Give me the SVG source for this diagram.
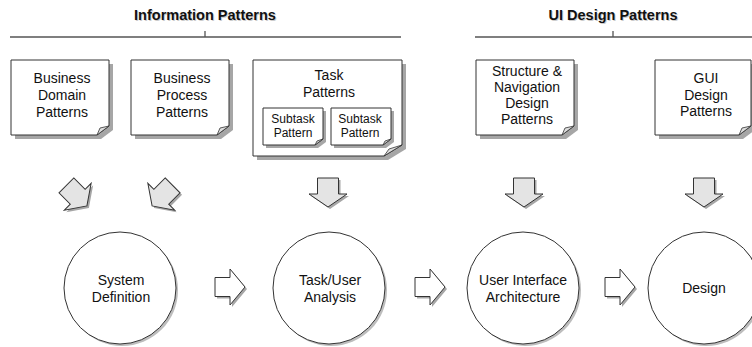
<svg xmlns="http://www.w3.org/2000/svg" xmlns:xlink="http://www.w3.org/1999/xlink" width="752" height="347" viewBox="0 0 752 347">
<style>
  .txt{font-family:"Liberation Sans",Arial,sans-serif;font-size:14px;fill:#111;text-anchor:middle}
  .sm{font-size:12px}
  .hdr{font-family:"Liberation Sans",Arial,sans-serif;font-size:14.5px;font-weight:bold;fill:#111;text-anchor:middle}
  .hdrsh{font-family:"Liberation Sans",Arial,sans-serif;font-size:14.5px;font-weight:bold;fill:#ccc;text-anchor:middle}
  .doc{fill:#fff;stroke:#333;stroke-width:1}
  .flap{fill:#ddd;stroke:#333;stroke-width:0.8}
  .sh{fill:#a6a6a6;stroke:none}
  .csh{fill:#bdbdbd;stroke:none}
  .circ{fill:#fff;stroke:#333;stroke-width:1}
  .garr{fill:#e4e4e4;stroke:#333;stroke-width:1}
  .warr{fill:#fff;stroke:#333;stroke-width:1}
  .line{stroke:#555;stroke-width:1.3;fill:none}
</style>
<defs>
  <polygon id="dn" points="-10.5,-15 10.5,-15 10.5,1 19,1 0,14 -19,1 -10.5,1"/>
  <polygon id="rt" points="0,-9.5 15,-9.5 15,-18 30,0 15,18 15,9.5 0,9.5"/>
</defs>

<g id="headers">
  <text class="hdrsh" x="206" y="21">Information Patterns</text>
  <text class="hdr" x="205" y="20">Information Patterns</text>
  <path class="line" d="M10,37 H401 M205,31 V37"/>
  <text class="hdrsh" x="614" y="21">UI Design Patterns</text>
  <text class="hdr" x="613" y="20">UI Design Patterns</text>
  <path class="line" d="M475,37 H752 M613,31 V37"/>
</g>

<g id="business-domain">
  <path class="sh" transform="translate(4,4)" d="M11,60 H109 V126 L97,135 H11 Z"/>
  <path class="doc" d="M11,60 H109 V126 L97,135 H11 Z"/>
  <path class="flap" d="M97,135 L100,128 L109,126 Z"/>
  <text class="txt" x="62" y="83">Business</text>
  <text class="txt" x="62" y="100">Domain</text>
  <text class="txt" x="62" y="117">Patterns</text>
</g>

<g id="business-process">
  <path class="sh" transform="translate(4,4)" d="M131,60 H229 V126 L217,135 H131 Z"/>
  <path class="doc" d="M131,60 H229 V126 L217,135 H131 Z"/>
  <path class="flap" d="M217,135 L220,128 L229,126 Z"/>
  <text class="txt" x="182" y="83">Business</text>
  <text class="txt" x="182" y="100">Process</text>
  <text class="txt" x="182" y="117">Patterns</text>
</g>

<g id="task-patterns">
  <path class="sh" transform="translate(4,4)" d="M253,60 H402 V145 L384,156 H253 Z"/>
  <path class="doc" d="M253,60 H402 V145 L384,156 H253 Z"/>
  <path class="flap" d="M384,156 L389,149 L402,145 Z"/>
  <text class="txt" x="329" y="80">Task</text>
  <text class="txt" x="329" y="97">Patterns</text>
  <g id="subtask-1">
    <path class="sh" transform="translate(3,3)" d="M263,108 H323 V139 L315,145 H263 Z"/>
    <path class="doc" d="M263,108 H323 V139 L315,145 H263 Z"/>
    <path class="flap" d="M315,145 L317,141 L323,139 Z"/>
    <text class="txt sm" x="293" y="123">Subtask</text>
    <text class="txt sm" x="293" y="137">Pattern</text>
  </g>
  <g id="subtask-2">
    <path class="sh" transform="translate(3,3)" d="M331,108 H391 V139 L383,145 H331 Z"/>
    <path class="doc" d="M331,108 H391 V139 L383,145 H331 Z"/>
    <path class="flap" d="M383,145 L385,141 L391,139 Z"/>
    <text class="txt sm" x="360" y="123">Subtask</text>
    <text class="txt sm" x="360" y="137">Pattern</text>
  </g>
</g>

<g id="structure-navigation">
  <path class="sh" transform="translate(4,4)" d="M476,60 H574 V126 L562,135 H476 Z"/>
  <path class="doc" d="M476,60 H574 V126 L562,135 H476 Z"/>
  <path class="flap" d="M562,135 L565,128 L574,126 Z"/>
  <text class="txt" x="527" y="76">Structure &amp;</text>
  <text class="txt" x="527" y="92">Navigation</text>
  <text class="txt" x="527" y="108">Design</text>
  <text class="txt" x="527" y="124">Patterns</text>
</g>

<g id="gui-design">
  <path class="sh" transform="translate(4,4)" d="M655,60 H751 V126 L739,135 H655 Z"/>
  <path class="doc" d="M655,60 H751 V126 L739,135 H655 Z"/>
  <path class="flap" d="M739,135 L742,128 L751,126 Z"/>
  <text class="txt" x="706" y="83">GUI</text>
  <text class="txt" x="706" y="100">Design</text>
  <text class="txt" x="706" y="116">Patterns</text>
</g>

<g id="system-definition">
  <circle class="csh" cx="122" cy="290" r="56"/>
  <circle class="circ" cx="120" cy="288" r="56"/>
  <text class="txt" x="121" y="285">System</text>
  <text class="txt" x="121" y="302">Definition</text>
</g>

<g id="task-user-analysis">
  <circle class="csh" cx="331" cy="290" r="56"/>
  <circle class="circ" cx="329" cy="288" r="56"/>
  <text class="txt" x="330" y="285">Task/User</text>
  <text class="txt" x="330" y="302">Analysis</text>
</g>

<g id="ui-architecture">
  <circle class="csh" cx="525" cy="290" r="56"/>
  <circle class="circ" cx="523" cy="288" r="56"/>
  <text class="txt" x="523" y="285">User Interface</text>
  <text class="txt" x="523" y="302">Architecture</text>
</g>

<g id="design">
  <circle class="csh" cx="706" cy="290" r="56"/>
  <circle class="circ" cx="704" cy="288" r="56"/>
  <text class="txt" x="704" y="293">Design</text>
</g>

<g id="connectors">
  <use href="#dn" xlink:href="#dn" class="sh" transform="translate(79,198) rotate(-45)"/>
  <use href="#dn" xlink:href="#dn" class="garr" transform="translate(77,196) rotate(-45)"/>
  <use href="#dn" xlink:href="#dn" class="sh" transform="translate(164,198) rotate(45)"/>
  <use href="#dn" xlink:href="#dn" class="garr" transform="translate(162,196) rotate(45)"/>

  <use href="#dn" xlink:href="#dn" class="sh" transform="translate(330,195)"/>
  <use href="#dn" xlink:href="#dn" class="garr" transform="translate(328,193)"/>
  <use href="#dn" xlink:href="#dn" class="sh" transform="translate(526,195)"/>
  <use href="#dn" xlink:href="#dn" class="garr" transform="translate(524,193)"/>
  <use href="#dn" xlink:href="#dn" class="sh" transform="translate(706,195)"/>
  <use href="#dn" xlink:href="#dn" class="garr" transform="translate(704,193)"/>

  <use href="#rt" xlink:href="#rt" class="sh" transform="translate(217,289)"/>
  <use href="#rt" xlink:href="#rt" class="warr" transform="translate(215,287)"/>
  <use href="#rt" xlink:href="#rt" class="sh" transform="translate(417,289)"/>
  <use href="#rt" xlink:href="#rt" class="warr" transform="translate(415,287)"/>
  <use href="#rt" xlink:href="#rt" class="sh" transform="translate(607,289)"/>
  <use href="#rt" xlink:href="#rt" class="warr" transform="translate(605,287)"/>
</g>
</svg>
